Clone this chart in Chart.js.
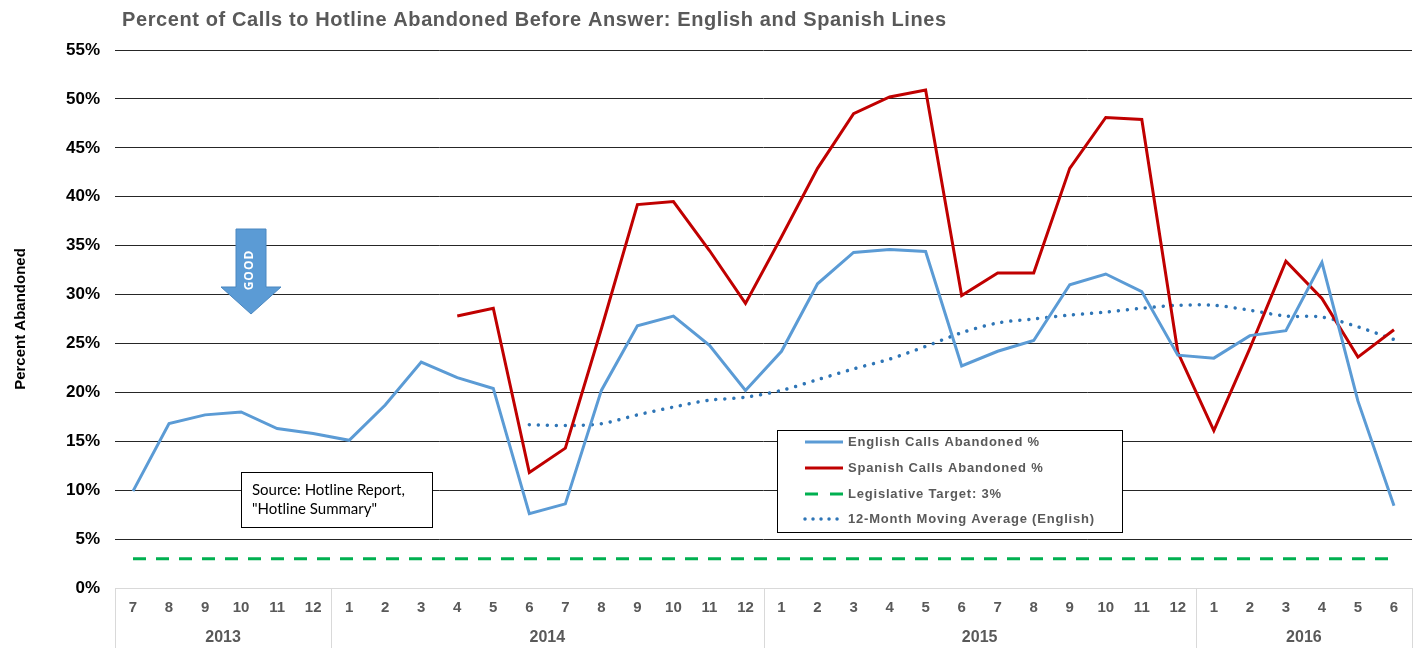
<!DOCTYPE html>
<html>
<head>
<meta charset="utf-8">
<script src="https://cdn.jsdelivr.net/npm/chart.js@4.4.1/dist/chart.umd.min.js"></script>
<style>
  html, body { margin: 0; padding: 0; background: #fff; }
  #wrap { width: 1424px; height: 648px; position: relative; }
</style>
</head>
<body>
<div id="wrap"><canvas id="chart" width="1424" height="648"></canvas></div>
<script>
// months Jul 2013 .. Jun 2016
const monthLabels = ['7', '8', '9', '10', '11', '12',
    '1', '2', '3', '4', '5', '6', '7', '8', '9', '10', '11', '12',
    '1', '2', '3', '4', '5', '6', '7', '8', '9', '10', '11', '12',
    '1', '2', '3', '4', '5', '6'];
const yearLabels = ['2013', '2014', '2015', '2016'];
const yearSpans = [6, 12, 12, 6];

const englishPct = [9.9, 16.8, 17.7, 18.0, 16.3, 15.8,
    15.1, 18.7, 23.1, 21.5, 20.4, 7.6, 8.6, 20.2, 26.8, 27.8, 24.8, 20.2,
    24.2, 31.1, 34.3, 34.6, 34.4, 22.7, 24.2, 25.3, 31.0, 32.1, 30.3, 23.8,
    23.5, 25.8, 26.3, 33.3, 19.1, 8.4];
const spanishPct = [null, null, null, null, null, null,
    null, null, null, 27.8, 28.6, 11.8, 14.3, 26.5, 39.2, 39.5, 34.5, 29.1,
    35.9, 42.9, 48.5, 50.2, 50.9, 29.9, 32.2, 32.2, 42.9, 48.1, 47.9, 24.1,
    16.1, 24.5, 33.4, 29.6, 23.6, 26.4];
const movingAvgPct = [null, null, null, null, null, null,
    null, null, null, null, null, 16.7, 16.6, 16.8, 17.7, 18.5, 19.2, 19.5,
    20.2, 21.3, 22.4, 23.4, 24.7, 26.1, 27.1, 27.5, 27.9, 28.2, 28.6, 28.9,
    28.9, 28.4, 27.8, 27.7, 26.7, 25.4];
const targetPct = 3;
const yTicks = [0, 5, 10, 15, 20, 25, 30, 35, 40, 45, 50, 55];

const titleText = 'Percent of Calls to Hotline Abandoned Before Answer: English and Spanish Lines';
const sourceLines = ['Source: Hotline Report,', '"Hotline Summary"'];

const GREY_TXT = '#595959';
const AXIS_LINE = '#d9d9d9';
const SANS = '"Liberation Sans", Arial, sans-serif';

const extras = {
    id: 'extras',
    afterDraw(chart) {
        const ctx = chart.ctx;
        const area = chart.chartArea;
        const x = chart.scales.x;
        const half = (x.getPixelForValue(1) - x.getPixelForValue(0)) / 2;

        ctx.save();
        // title
        ctx.fillStyle = GREY_TXT;
        ctx.font = 'bold 20px ' + SANS;
        ctx.letterSpacing = '0.6px';
        ctx.textBaseline = 'middle';
        ctx.textAlign = 'left';
        ctx.fillText(titleText, 122, 20);
        ctx.letterSpacing = '0px';

        // category table under the plot
        ctx.strokeStyle = AXIS_LINE;
        ctx.lineWidth = 1;
        ctx.beginPath();
        ctx.moveTo(area.left, area.bottom + 0.5);
        ctx.lineTo(area.right, area.bottom + 0.5);
        ctx.stroke();

        ctx.font = 'bold 15px ' + SANS;
        ctx.fillStyle = GREY_TXT;
        ctx.textAlign = 'center';
        monthLabels.forEach(function (m, i) {
            ctx.fillText(m, x.getPixelForValue(i), area.bottom + 20);
        });

        ctx.font = 'bold 16px ' + SANS;
        let idx = 0;
        const edges = [area.left];
        yearSpans.forEach(function (n, k) {
            const x0 = x.getPixelForValue(idx) - half;
            const x1 = x.getPixelForValue(idx + n - 1) + half;
            ctx.fillText(yearLabels[k], (x0 + x1) / 2, area.bottom + 50);
            edges.push(x1);
            idx += n;
        });
        ctx.beginPath();
        edges.forEach(function (ex) {
            const px = Math.round(ex) + 0.5;
            ctx.moveTo(px, area.bottom);
            ctx.lineTo(px, chart.height);
        });
        ctx.stroke();

        // GOOD arrow
        ctx.fillStyle = '#5b9bd5';
        ctx.strokeStyle = '#4a87c0';
        ctx.beginPath();
        ctx.moveTo(236, 229);
        ctx.lineTo(266, 229);
        ctx.lineTo(266, 287);
        ctx.lineTo(281, 287);
        ctx.lineTo(251, 314);
        ctx.lineTo(221, 287);
        ctx.lineTo(236, 287);
        ctx.closePath();
        ctx.fill();
        ctx.stroke();
        ctx.save();
        ctx.translate(250, 270);
        ctx.rotate(-Math.PI / 2);
        ctx.fillStyle = '#ffffff';
        ctx.font = 'bold 12px "Open Sans", sans-serif';
        ctx.letterSpacing = '1px';
        ctx.textAlign = 'center';
        ctx.fillText('GOOD', 0, 0);
        ctx.restore();

        // source note
        ctx.fillStyle = '#ffffff';
        ctx.fillRect(241, 472, 191, 55);
        ctx.strokeStyle = '#000000';
        ctx.strokeRect(241.5, 472.5, 191, 55);
        ctx.fillStyle = '#000000';
        ctx.font = '15px Lato, "Open Sans", sans-serif';
        ctx.textAlign = 'left';
        ctx.fillText(sourceLines[0], 252, 490);
        ctx.fillText(sourceLines[1], 252, 509);

        // legend
        const lx = 777, ly = 430, lw = 345, lh = 102;
        ctx.fillStyle = '#ffffff';
        ctx.fillRect(lx, ly, lw, lh);
        ctx.strokeStyle = '#000000';
        ctx.strokeRect(lx + 0.5, ly + 0.5, lw, lh);
        const rows = [442, 468, 494, 519];
        chart.data.datasets.forEach(function (ds, i) {
            const yy = rows[i];
            ctx.save();
            ctx.strokeStyle = ds.borderColor;
            ctx.lineWidth = ds.borderWidth;
            ctx.lineCap = ds.borderCapStyle || 'butt';
            ctx.setLineDash(ds.legendDash || []);
            ctx.beginPath();
            ctx.moveTo(805, yy);
            ctx.lineTo(843, yy);
            ctx.stroke();
            ctx.restore();
            ctx.fillStyle = GREY_TXT;
            ctx.font = 'bold 13px ' + SANS;
            ctx.letterSpacing = '0.8px';
            ctx.textAlign = 'left';
            ctx.fillText(ds.label, 848, yy);
            ctx.letterSpacing = '0px';
        });
        ctx.restore();
    }
};

new Chart(document.getElementById('chart'), {
    type: 'line',
    data: {
        labels: monthLabels,
        datasets: [
            {
                label: 'English Calls Abandoned %',
                data: englishPct,
                borderColor: '#5b9bd5',
                borderWidth: 3,
                pointRadius: 0,
                tension: 0,
            },
            {
                label: 'Spanish Calls Abandoned %',
                data: spanishPct,
                borderColor: '#c00000',
                borderWidth: 3,
                pointRadius: 0,
                tension: 0,
            },
            {
                label: 'Legislative Target: 3%',
                data: monthLabels.map(function () { return targetPct; }),
                borderColor: '#00b050',
                borderWidth: 3,
                borderDash: [13, 10],
                legendDash: [13, 12],
                pointRadius: 0,
            },
            {
                label: '12-Month Moving Average (English)',
                data: movingAvgPct,
                borderColor: '#2e75b6',
                borderWidth: 3.5,
                borderDash: [0.01, 9],
                legendDash: [0.01, 8],
                borderCapStyle: 'round',
                pointRadius: 0,
                tension: 0.3,
            }
        ]
    },
    options: {
        responsive: false,
        animation: false,
        layout: { padding: { top: 50, left: 12, right: 12, bottom: 0 } },
        scales: {
            x: {
                offset: true,
                grid: { display: false },
                border: { display: false },
                ticks: { display: false },
                afterFit: function (scale) { scale.height = 60; }
            },
            y: {
                min: 0,
                max: 55,
                afterBuildTicks: function (scale) {
                    scale.ticks = yTicks.map(function (v) { return { value: v }; });
                },
                afterFit: function (scale) { scale.width = 103; },
                border: { display: false },
                grid: {
                    drawTicks: false,
                    color: function (c) { return c.tick && c.tick.value === 0 ? AXIS_LINE : '#262626'; },
                    lineWidth: 1
                },
                ticks: {
                    padding: 15,
                    color: '#000000',
                    font: { family: SANS, size: 17, weight: 'bold' },
                    callback: function (v) { return v + '%'; }
                },
                title: {
                    display: true,
                    text: 'Percent Abandoned',
                    color: '#000000',
                    font: { family: SANS, size: 15, weight: 'bold' },
                    padding: { top: 0, bottom: 4 }
                }
            }
        },
        plugins: {
            legend: { display: false },
            tooltip: { enabled: false }
        }
    },
    plugins: [extras]
});
</script>
</body>
</html>
